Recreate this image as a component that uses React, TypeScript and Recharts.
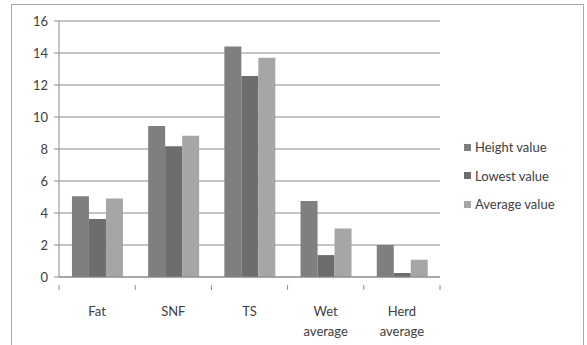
import React from "react"
import { BarChart, Bar, XAxis, YAxis, CartesianGrid, Legend } from "recharts"

const categories = ["Fat", "SNF", "TS", "Wet average", "Herd average"]
const heightValues = [5.05, 9.43, 14.4, 4.75, 2.0]
const lowestValues = [3.62, 8.17, 12.57, 1.37, 0.25]
const averageValues = [4.9, 8.83, 13.7, 3.03, 1.08]
const yTicks = [0, 2, 4, 6, 8, 10, 12, 14, 16]

const seriesInfo = [
  { key: "height", name: "Height value", color: "#7f7f7f" },
  { key: "lowest", name: "Lowest value", color: "#6d6d6d" },
  { key: "average", name: "Average value", color: "#a6a6a6" },
]

const data = categories.map((c, i) => ({
  name: c,
  height: heightValues[i],
  lowest: lowestValues[i],
  average: averageValues[i],
}))

const FONT = "Lato, 'Open Sans', sans-serif"
const TEXT = "#404040"
const AXIS = "#8a8a8a"

function CategoryTick(props: any) {
  const { x, y, payload, index, width, visibleTicksCount } = props
  const band = width / visibleTicksCount
  const words: string[] = String(payload.value).split(" ")
  return (
    <g>
      <line x1={x - band / 2} x2={x - band / 2} y1={y} y2={y + 5} stroke={AXIS} />
      {index === visibleTicksCount - 1 && (
        <line x1={x + band / 2} x2={x + band / 2} y1={y} y2={y + 5} stroke={AXIS} />
      )}
      {words.map((w, i) => (
        <text
          key={i}
          x={x}
          y={y + 26 + i * 20}
          textAnchor="middle"
          dominantBaseline="central"
          fill={TEXT}
          fontSize={13}
          fontFamily={FONT}
        >
          {w}
        </text>
      ))}
    </g>
  )
}

function LegendBox() {
  return (
    <div style={{ width: 130, paddingLeft: 24, paddingTop: 6, boxSizing: "border-box", fontFamily: FONT }}>
      {seriesInfo.map((s) => (
        <div key={s.key} style={{ display: "flex", alignItems: "center", height: 28.5 }}>
          <span style={{ width: 7, height: 7, background: s.color, marginRight: 4, display: "inline-block" }} />
          <span style={{ fontSize: 13, color: TEXT }}>{s.name}</span>
        </div>
      ))}
    </div>
  )
}

export default function App() {
  return (
    <div style={{ position: "absolute", left: 0, top: 0, width: 587, height: 345, background: "#fff", overflow: "hidden" }}>
      <div
        style={{
          position: "absolute",
          left: 11,
          top: 4,
          width: 573,
          height: 345,
          border: "1px solid #a8a8a8",
          boxSizing: "border-box",
        }}
      />
      <BarChart
        width={587}
        height={345}
        data={data}
        margin={{ top: 21, right: 17, bottom: 8, left: 19 }}
        barCategoryGap="17%"
        barGap={0}
      >
        <CartesianGrid vertical={false} stroke={AXIS} />
        <XAxis
          dataKey="name"
          height={60}
          stroke={AXIS}
          tickLine={false}
          interval={0}
          tick={<CategoryTick />}
        />
        <YAxis
          domain={[0, 16]}
          ticks={yTicks}
          width={40}
          stroke={AXIS}
          tickSize={5}
          tickMargin={6}
          tick={{ fill: TEXT, fontSize: 13, fontFamily: FONT }}
        />
        <Legend layout="vertical" align="right" verticalAlign="middle" content={<LegendBox />} />
        {seriesInfo.map((s) => (
          <Bar key={s.key} dataKey={s.key} name={s.name} fill={s.color} isAnimationActive={false} />
        ))}
      </BarChart>
    </div>
  )
}
